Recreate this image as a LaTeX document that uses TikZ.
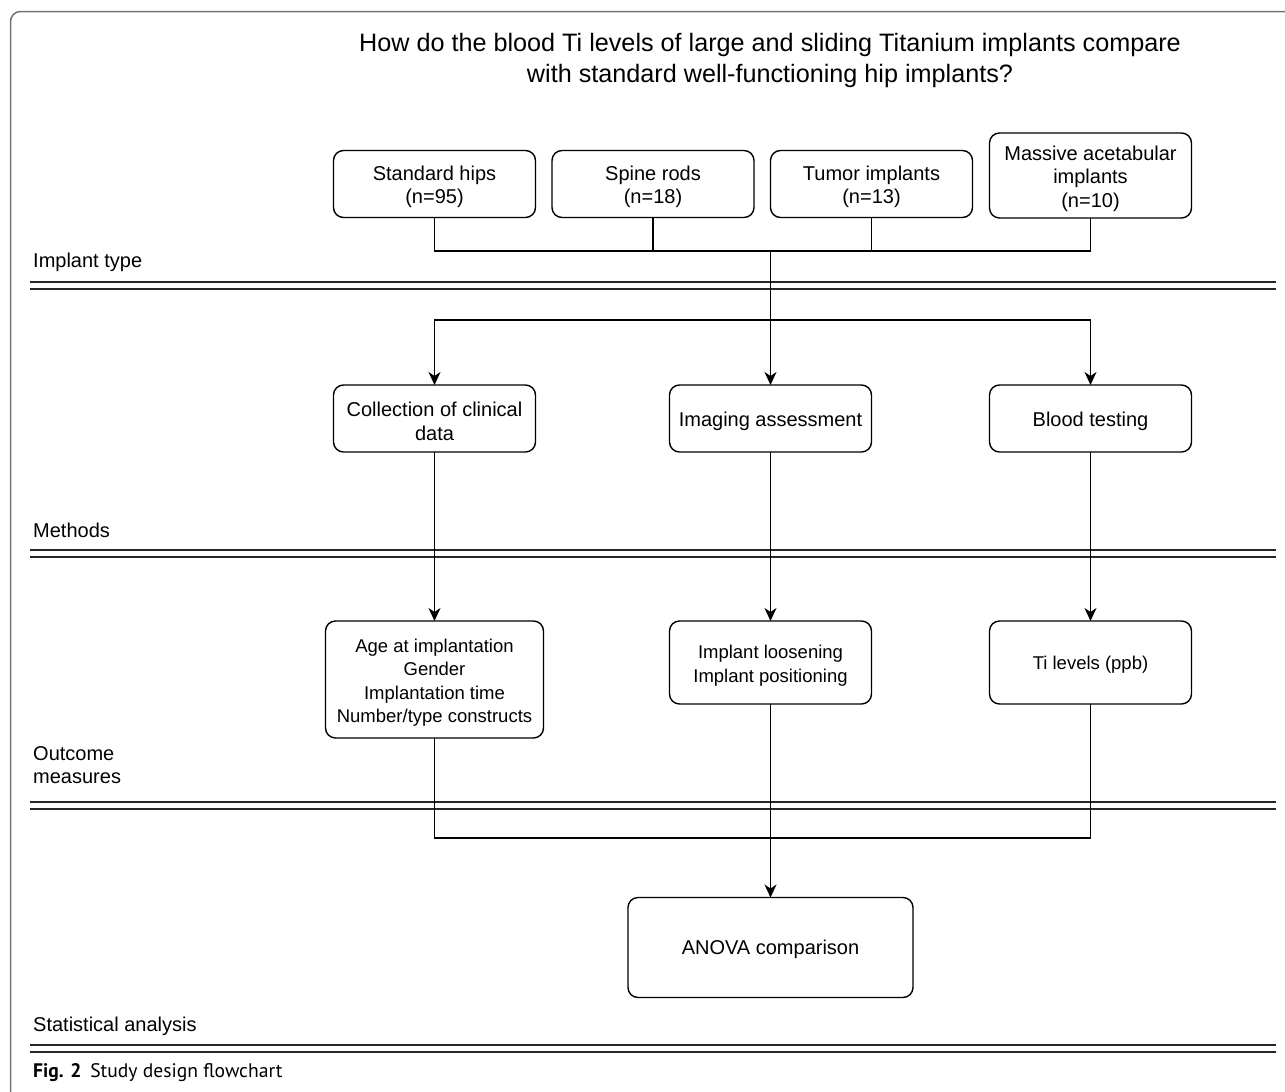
\documentclass[tikz,border=0pt]{standalone}
\usepackage{fontspec}
\setmainfont{Liberation Sans}
\newfontfamily\capfont{PT Sans}
\usetikzlibrary{arrows.meta}
\tikzset{
  box/.style={draw=black, line width=1.4pt, rounded corners=10pt,
    inner sep=0pt, outer sep=0pt, minimum width=202pt, minimum height=67pt},
  txt/.style={align=center, inner sep=0pt, font=\fontsize{20}{23.5}\selectfont},
  otxt/.style={txt, font=\fontsize{18.5}{23.5}\selectfont},
  conn/.style={line width=1.5pt, draw=black},
  arr/.style={conn, -{Stealth[length=13pt,width=12pt,inset=4pt]}},
  sep/.style={line width=2pt, draw=black!85},
  lab/.style={anchor=west, inner sep=0pt, font=\fontsize{20}{23.5}\selectfont, align=left},
}
\begin{document}
\begin{tikzpicture}[x=1pt,y=-1pt]
\useasboundingbox (0,0) rectangle (1285,1092);
\begin{scope}
\clip (0,0) rectangle (1285,1092);
\draw[draw=black!55, line width=1.5pt, rounded corners=10pt] (1300,11.5) -- (10.5,11.5) -- (10.5,1105);
\end{scope}

% title
\node[align=center, font=\fontsize{25.2}{31}\selectfont, inner sep=0pt] (title) at (770,60)
  {How do the blood Ti levels of large and sliding Titanium implants compare\\with standard well-functioning hip implants?};

% separators
\foreach \y in {282,550,802,1045}{
  \draw[sep] (30,\y) -- (1276,\y);
  \draw[sep] (30,\y+6.5) -- (1276,\y+6.5);
}

% section labels
\node[lab] (l1) at (33,262) {Implant type};
\node[lab] (l2) at (33,530) {Methods};
\node[lab] (l3) at (33,765) {Outcome\\measures};
\node[lab] (l4) at (33,1026) {Statistical analysis};
\node[anchor=west, inner sep=0pt, font=\capfont\fontsize{19.6}{23}\selectfont] (cap) at (33,1073)
  {\textbf{Fig. 2}\hspace{0.45em}Study design flowchart};

% top boxes
\node[box] (sh) at (434.5,184) {};
\node[box] (sr) at (653,184) {};
\node[box] (tu) at (871.5,184) {};
\node[box, minimum height=85pt] (ma) at (1090.5,175.5) {};
\node[txt] (sht) at ([yshift=-3pt]sh.center) {Standard hips\\(n=95)};
\node[txt] (srt) at ([yshift=-3pt]sr.center) {Spine rods\\(n=18)};
\node[txt] (tut) at ([yshift=-3pt]tu.center) {Tumor implants\\(n=13)};
\node[txt] (mat) at ([yshift=-3pt]ma.center) {Massive acetabular\\implants\\(n=10)};

% methods boxes
\node[box] (cc) at (434.5,418.5) {};
\node[box] (ia) at (770.5,418.5) {};
\node[box] (bt) at (1090.5,418.5) {};
\node[txt] (cct) at ([yshift=-3pt]cc.center) {Collection of clinical\\data};
\node[txt] (iat) at ([yshift=-3pt]ia.center) {Imaging assessment};
\node[txt] (btt) at ([yshift=-3pt]bt.center) {Blood testing};

% outcome boxes
\node[box, minimum width=218pt, minimum height=117pt] (age) at (434.5,679.5) {};
\node[box, minimum height=83pt] (il) at (770.5,662.5) {};
\node[box, minimum height=83pt] (tl) at (1090.5,662.5) {};
\node[otxt] (aget) at ([yshift=-3pt]age.center)
  {Age at implantation\\Gender\\Implantation time\\Number/type constructs};
\node[otxt] (ilt) at ([yshift=-3pt]il.center) {Implant loosening\\Implant positioning};
\node[otxt] (tlt) at ([yshift=-2pt]tl.center) {Ti levels (ppb)};

% analysis box
\node[box, minimum width=285pt, minimum height=100pt] (an) at (770.5,947.5) {};
\node[txt] (ant) at ([yshift=-2pt]an.center) {ANOVA comparison};

% junctions
\coordinate (j1) at (770.5,251);
\coordinate (j2) at (770.5,320);
\coordinate (j3) at (770.5,838);

\draw[conn] (sh.south) |- (j1);
\draw[conn] (sr.south) |- (j1);
\draw[conn] (tu.south) |- (j1);
\draw[conn] (ma.south) |- (j1);
\draw[conn] (j1) -- (j2);
\draw[arr] (j2) -- (ia.north);
\draw[arr] (j2) -| (cc.north);
\draw[arr] (j2) -| (bt.north);

\draw[arr] (cc.south) -- (age.north);
\draw[arr] (ia.south) -- (il.north);
\draw[arr] (bt.south) -- (tl.north);

\draw[conn] (age.south) |- (j3);
\draw[conn] (tl.south) |- (j3);
\draw[arr] (il.south) -- (an.north);
\end{tikzpicture}
\end{document}
